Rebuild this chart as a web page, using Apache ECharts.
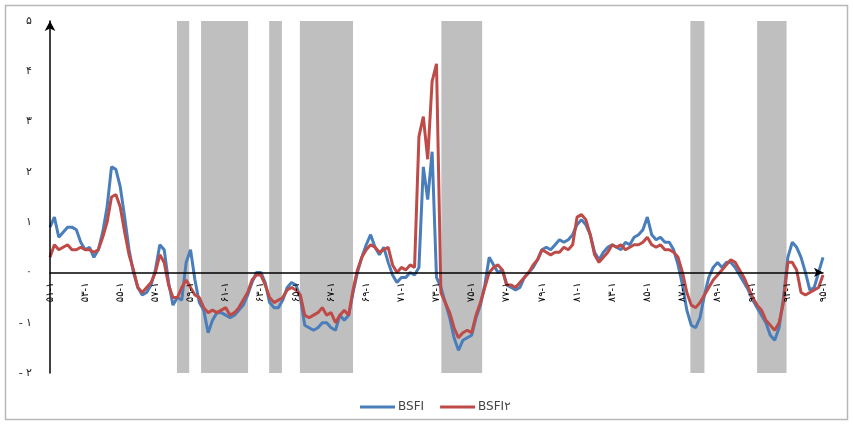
<!DOCTYPE html>
<html><head><meta charset="utf-8">
<script src="https://cdn.jsdelivr.net/npm/echarts@6/dist/echarts.min.js"></script>
<style>html,body{margin:0;padding:0;background:#fff}#c{width:853px;height:425px}</style>
</head><body><div id="c"></div>
<script>
// Quarterly categories from 1351-Q1 to 1395-Q1 (177 quarters)
const faDigits = '۰۱۲۳۴۵۶۷۸۹';
function fa(s){ return String(s).replace(/[0-9]/g, d => faDigits[+d]); }
const categories = [];
for (let i = 0; i < 177; i++) {
  const yr = 1351 + Math.floor(i / 4);
  categories.push(fa(yr % 100) + '-' + fa(i % 4 + 1));
}
const yTicks = {'-2':'- ۲','-1':'- ۱','0':'۰','1':'۱','2':'۲','3':'۳','4':'۴','5':'۵'};

const bsfi = [
0.9,1.1,0.7,0.8,0.9,0.9,0.85,0.6,0.45,0.5,
0.3,0.45,0.8,1.3,2.1,2.05,1.7,1.1,0.45,0.0,
-0.3,-0.45,-0.4,-0.25,0.05,0.55,0.45,-0.2,-0.65,-0.5,
-0.55,0.2,0.45,-0.15,-0.6,-0.75,-1.2,-0.95,-0.8,-0.8,
-0.85,-0.9,-0.85,-0.75,-0.65,-0.45,-0.2,0.0,0.0,-0.2,
-0.6,-0.7,-0.7,-0.55,-0.3,-0.2,-0.25,-0.5,-1.05,-1.1,
-1.15,-1.1,-1.0,-1.0,-1.1,-1.15,-0.85,-0.95,-0.85,-0.4,
0.0,0.3,0.55,0.75,0.5,0.35,0.5,0.2,-0.05,-0.2,
-0.1,-0.1,0.0,-0.05,0.1,2.1,1.45,2.4,-0.1,-0.3,
-0.6,-0.9,-1.3,-1.55,-1.35,-1.3,-1.25,-0.9,-0.65,-0.25,
0.3,0.15,0.0,0.05,-0.25,-0.3,-0.35,-0.3,-0.1,0.0,
0.1,0.25,0.45,0.5,0.45,0.55,0.65,0.6,0.65,0.75,
0.95,1.05,0.95,0.75,0.4,0.25,0.4,0.5,0.55,0.5,
0.45,0.6,0.55,0.7,0.75,0.85,1.1,0.75,0.65,0.7,
0.6,0.6,0.45,0.15,-0.25,-0.75,-1.05,-1.1,-0.9,-0.45,
-0.1,0.1,0.2,0.1,0.2,0.2,0.1,-0.05,-0.2,-0.35,
-0.55,-0.7,-0.85,-1.0,-1.25,-1.35,-1.1,-0.5,0.3,0.6,
0.5,0.3,0.0,-0.35,-0.3,0.0,0.3
];
const bsfi2 = [
0.3,0.55,0.45,0.5,0.55,0.45,0.45,0.5,0.45,0.45,
0.4,0.45,0.7,1.0,1.5,1.55,1.3,0.8,0.35,0.05,
-0.3,-0.4,-0.3,-0.2,0.0,0.35,0.2,-0.25,-0.5,-0.5,
-0.3,-0.15,-0.3,-0.45,-0.5,-0.7,-0.8,-0.75,-0.8,-0.75,
-0.7,-0.85,-0.8,-0.7,-0.55,-0.4,-0.15,-0.05,-0.05,-0.25,
-0.5,-0.6,-0.55,-0.5,-0.35,-0.3,-0.35,-0.45,-0.85,-0.9,
-0.85,-0.8,-0.7,-0.85,-0.8,-1.0,-0.85,-0.75,-0.85,-0.35,
0.05,0.3,0.45,0.55,0.5,0.4,0.45,0.5,0.15,0.0,
0.1,0.05,0.15,0.1,2.7,3.1,2.25,3.8,4.15,-0.4,
-0.6,-0.8,-1.1,-1.3,-1.2,-1.15,-1.2,-0.85,-0.6,-0.3,
0.0,0.1,0.15,0.05,-0.25,-0.25,-0.3,-0.2,-0.1,0.0,
0.15,0.25,0.45,0.4,0.35,0.4,0.4,0.5,0.45,0.55,
1.1,1.15,1.05,0.75,0.35,0.2,0.3,0.4,0.55,0.5,
0.55,0.45,0.5,0.55,0.55,0.6,0.7,0.55,0.5,0.55,
0.45,0.45,0.4,0.3,0.0,-0.4,-0.65,-0.7,-0.6,-0.45,
-0.3,-0.15,-0.05,0.05,0.15,0.25,0.2,0.05,-0.1,-0.3,
-0.5,-0.65,-0.75,-0.95,-1.05,-1.15,-1.0,-0.6,0.2,0.2,
0.05,-0.4,-0.45,-0.4,-0.35,-0.3,-0.05
];
// shaded periods, in quarter-index units
const bands = [[28.9,31.7],[34.4,45.1],[49.9,52.8],[56.9,69.0],[89.1,98.4],[145.8,149.0],[161.0,167.7]];

const gridTop = 21, gridBottom = 52, H = 425;
const plotH = H - gridTop - gridBottom;
const zeroShift = plotH * 2 / 7; // distance from bottom (-2) to zero line

const chart = echarts.init(document.getElementById('c'), null, {renderer:'canvas'});
const font = '"DejaVu Sans", "Noto Sans", sans-serif';
chart.setOption({
  animation:false,
  backgroundColor:'#fff',
  graphic:[{type:'rect', shape:{x:5.5,y:5.5,width:842,height:414}, style:{fill:'none', stroke:'#b8b8b8', lineWidth:1.5}, z:-10}],
  grid:{left:50, right:30, top:gridTop, bottom:gridBottom},
  legend:{
    left:355, top:396, itemGap:16, itemWidth:35, itemHeight:3, icon:'rect',
    textStyle:{fontFamily:font, fontSize:12, color:'#444', padding:[0,0,0,-2]},
    data:['BSFI','BSFI۲']
  },
  xAxis:[{
    type:'category', data:categories, boundaryGap:false, z:10,
    offset:-zeroShift,
    axisLine:{onZero:false, lineStyle:{color:'#000', width:1.5}, symbol:['none','arrow'], symbolSize:[7,9]},
    axisTick:{show:false},
    axisLabel:{interval:7, rotate:90, fontSize:10, color:'#000', fontFamily:font, margin:10},
    splitLine:{show:false}
  },{
    type:'value', min:0, max:176, show:false
  }],
  yAxis:{
    type:'value', min:-2, max:5, interval:1, z:10,
    axisLine:{show:true, onZero:false, lineStyle:{color:'#000', width:1.5}, symbol:['none','arrow'], symbolSize:[8,10]},
    axisTick:{show:false},
    splitLine:{show:false},
    axisLabel:{margin:18, fontSize:11, color:'#222', fontFamily:font, formatter:v => yTicks[String(v)]}
  },
  series:[
    {name:'bands', type:'line', xAxisIndex:1, data:[[0,null]], silent:true, z:1, showSymbol:false,
     markArea:{silent:true, itemStyle:{color:'#BFBFBF'}, data: bands.map(b => [{xAxis:b[0]},{xAxis:b[1]}])}},
    {name:'BSFI', type:'line', data:bsfi, showSymbol:false, z:3,
     lineStyle:{color:'#4A7EBB', width:3}, itemStyle:{color:'#4A7EBB'}},
    {name:'BSFI۲', type:'line', data:bsfi2, showSymbol:false, z:4,
     lineStyle:{color:'#BE4B48', width:3}, itemStyle:{color:'#BE4B48'}}
  ]
});
</script></body></html>
